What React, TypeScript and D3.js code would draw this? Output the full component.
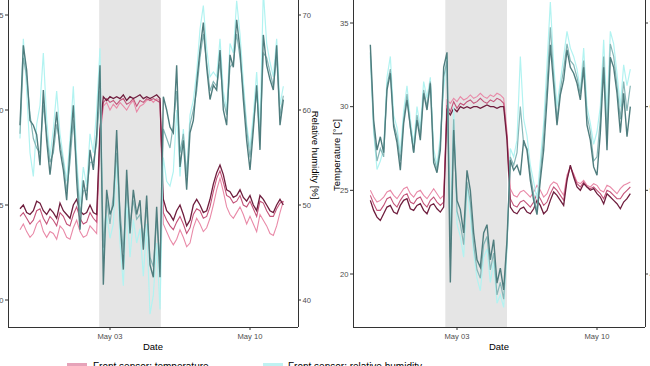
import React from "react";
import * as d3 from "d3";

const HOUR = 3600 * 1000;
const STEP_HOURS = 4;

// left panel, 4-hourly readings from Apr 28 12:00
const leftStart = new Date(2021, 3, 28, 12);
const leftHumLight = [
  57.0, 67.5, 62.0, 55.5, 53.0, 58.5, 60.5, 66.0, 59.0, 55.0,
  58.0, 62.0, 57.5, 55.0, 52.5, 57.0, 62.5, 55.0, 50.0, 54.0,
  52.0, 57.5, 55.5, 60.0, 66.5, 44.0, 49.0, 46.5, 48.0, 55.0,
  46.0, 41.5, 50.5, 44.5, 48.5, 46.0, 47.5, 42.5, 48.0, 38.5,
  40.5, 46.0, 39.0, 55.0, 52.5, 52.0, 53.5, 60.0, 53.0, 58.0,
  53.0, 59.5, 61.0, 64.0, 68.5, 71.0, 66.5, 63.5, 64.0, 63.5,
  67.5, 62.0, 60.0, 67.0, 66.0, 71.5, 68.0, 63.0, 58.5, 56.0,
  59.5, 64.0, 58.0, 72.5, 67.0, 65.0, 63.5, 67.5, 60.5, 62.5,
];
const leftHumMid = [
  57.5, 65.5, 63.5, 59.5, 57.0, 56.0, 55.5, 60.5, 57.5, 54.5,
  55.5, 58.5, 56.5, 54.5, 51.5, 54.5, 59.0, 54.0, 49.0, 51.5,
  51.5, 54.5, 54.5, 56.5, 62.0, 45.5, 50.5, 48.0, 51.0, 55.5,
  49.5, 45.0, 52.0, 48.0, 50.5, 48.5, 49.0, 46.5, 49.5, 44.5,
  43.5, 48.5, 44.0, 58.0, 57.0, 56.0, 58.5, 62.0, 55.5, 57.5,
  53.0, 58.5, 60.0, 62.0, 65.5, 68.0, 65.0, 62.0, 63.0, 62.5,
  65.0, 61.0, 59.5, 64.5, 65.0, 68.0, 65.5, 62.0, 58.0, 55.0,
  58.5, 62.0, 57.0, 66.0, 65.5, 64.0, 62.5, 65.5, 59.5, 61.5,
];
const leftHumDark = [
  58.4, 66.8, 64.2, 58.9, 58.4, 57.4, 54.2, 62.1, 56.8, 53.2,
  56.3, 59.8, 55.8, 53.7, 50.5, 55.8, 60.5, 52.6, 47.4, 52.6,
  50.5, 55.8, 53.7, 57.4, 64.7, 41.6, 51.6, 49.0, 50.0, 57.9,
  48.4, 43.2, 53.7, 47.0, 51.6, 49.0, 50.5, 45.3, 51.0, 43.7,
  42.4, 49.8, 42.4, 61.4, 60.0, 58.2, 57.6, 64.7, 54.0, 56.8,
  51.6, 57.6, 58.9, 62.8, 66.3, 69.2, 64.5, 61.1, 62.6, 62.1,
  66.3, 60.0, 58.4, 65.8, 64.5, 69.5, 66.3, 61.1, 56.8, 53.7,
  57.9, 62.6, 55.8, 67.9, 64.7, 63.2, 62.1, 66.8, 58.4, 61.1,
];
const leftTempLight = [
  23.7, 24.0, 23.6, 23.3, 23.5, 24.0, 24.2, 23.6, 23.3, 23.6,
  23.5, 23.2, 23.9, 23.7, 23.3, 23.2, 23.8, 24.2, 23.6, 23.3,
  23.4, 23.9, 23.7, 23.5, 28.5, 30.2, 30.4, 30.0, 30.3, 30.1,
  30.4, 30.2, 30.0, 30.3, 30.5, 29.9, 30.2, 30.3, 30.5, 30.6,
  30.4, 30.6, 30.5, 24.0, 23.6, 23.2, 22.9, 23.2, 23.7, 23.3,
  22.8, 23.0, 23.8, 24.3, 24.0, 23.6, 23.8, 24.3, 25.0, 25.8,
  26.4, 25.7, 24.9, 24.5, 24.3, 24.6, 24.9, 24.5, 24.0, 24.4,
  24.0, 23.6, 24.5, 24.2, 23.9, 23.5, 23.4, 23.9, 24.6, 25.2,
];
const leftTempMid = [
  24.4, 24.6, 24.3, 24.0, 24.2, 24.7, 24.8, 24.3, 24.0, 24.4,
  24.2, 23.9, 24.6, 24.4, 24.0, 23.9, 24.5, 24.9, 24.3, 24.0,
  24.1, 24.6, 24.3, 24.1, 28.8, 30.4, 30.6, 30.4, 30.5, 30.3,
  30.5, 30.6, 30.3, 30.4, 30.6, 30.2, 30.5, 30.4, 30.6, 30.5,
  30.6, 30.5, 30.4, 24.6, 24.2, 23.9, 23.7, 24.1, 24.4, 24.0,
  23.5, 23.8, 24.5, 24.8, 24.7, 24.3, 24.4, 24.9, 25.7, 26.4,
  26.8, 26.2, 25.5, 25.4, 25.1, 25.2, 25.5, 25.0, 24.9, 25.2,
  24.8, 24.4, 25.2, 25.1, 24.7, 24.4, 24.4, 24.8, 25.1, 25.2,
];
const leftTempDark = [
  24.8, 25.0, 24.6, 24.5, 24.7, 25.2, 25.1, 24.7, 24.5, 24.8,
  24.6, 24.3, 25.1, 24.7, 24.5, 24.3, 25.0, 25.3, 24.7, 24.5,
  24.6, 25.0, 24.6, 24.5, 29.0, 30.7, 30.5, 30.7, 30.6, 30.7,
  30.6, 30.8, 30.5, 30.7, 30.6, 30.7, 30.8, 30.6, 30.7, 30.6,
  30.7, 30.8, 30.6, 25.3, 24.7, 24.5, 24.2, 24.7, 25.0, 24.5,
  23.9, 24.2, 25.0, 25.3, 25.0, 24.6, 24.7, 25.3, 26.1, 26.7,
  27.1, 26.6, 25.8, 25.7, 25.4, 25.5, 25.8, 25.4, 25.2, 25.5,
  25.0, 24.7, 25.5, 25.3, 25.0, 24.7, 24.6, 25.0, 25.3, 25.0,
];
const leftShade = [new Date(2021, 4, 2, 11), new Date(2021, 4, 5, 13)];

// right panel, 4-hourly readings from Apr 28 16:00
const rightStart = new Date(2021, 3, 28, 16);
const rightHumLight = [
  66.0, 57.0, 52.5, 53.5, 55.0, 63.5, 66.0, 59.0, 57.5, 54.5,
  59.5, 62.5, 58.5, 55.5, 60.0, 57.5, 63.0, 61.0, 63.5, 55.0,
  53.0, 56.5, 62.0, 66.0, 45.0, 60.0, 46.0, 44.5, 42.0, 50.5,
  47.0, 42.5, 39.5, 38.0, 42.0, 43.0, 39.0, 41.5, 36.5, 37.5,
  36.0, 43.0, 55.0, 54.0, 56.0, 66.0, 58.5, 56.5, 53.0, 51.0,
  49.0, 53.5, 58.0, 65.0, 72.5, 65.0, 60.0, 63.0, 66.0, 69.0,
  67.0, 66.0, 64.5, 62.0, 67.0, 60.0, 58.0, 55.5, 57.0, 60.0,
  68.0, 59.0, 69.0, 67.5, 64.0, 60.0, 65.0, 62.5, 64.5,
];
const rightHumMid = [
  66.5, 57.5, 53.5, 55.0, 54.0, 62.5, 64.5, 58.0, 56.5, 53.5,
  58.5, 61.5, 57.5, 54.5, 59.0, 56.5, 62.0, 60.0, 63.0, 54.0,
  52.5, 55.5, 63.5, 65.5, 42.0, 58.5, 47.5, 46.0, 43.5, 51.0,
  48.5, 43.5, 40.5, 39.5, 43.5, 44.5, 40.5, 42.5, 37.5, 39.0,
  37.0, 43.5, 54.0, 53.0, 54.5, 60.0, 55.5, 55.0, 52.0, 49.5,
  47.5, 52.0, 56.5, 62.5, 69.5, 63.5, 58.5, 62.0, 64.5, 67.5,
  65.5, 65.0, 63.5, 61.5, 65.5, 59.0, 57.0, 53.5, 54.0, 58.5,
  66.0, 56.5, 67.5, 66.0, 62.5, 58.5, 63.0, 59.5, 62.5,
];
const rightHumDark = [
  67.4, 58.4, 54.8, 56.4, 54.5, 62.0, 64.0, 57.6, 55.7, 52.4,
  58.0, 60.8, 57.6, 54.5, 58.4, 56.0, 61.6, 59.6, 62.8, 53.3,
  52.1, 54.8, 64.7, 66.5, 39.0, 57.2, 48.8, 47.7, 44.9, 52.4,
  50.0, 44.9, 41.7, 40.8, 44.9, 45.9, 41.7, 44.1, 38.9, 40.7,
  38.1, 44.1, 53.6, 52.4, 53.0, 51.8, 56.0, 54.8, 51.2, 48.8,
  47.1, 51.2, 54.8, 60.8, 67.4, 62.6, 57.8, 61.4, 63.2, 66.8,
  64.7, 64.0, 62.8, 60.8, 64.7, 57.8, 56.0, 52.8, 51.8, 56.9,
  64.7, 54.8, 65.9, 64.7, 61.6, 56.9, 61.6, 56.4, 60.0,
];
const rightTempLight = [
  25.0, 24.6, 24.3, 24.4, 24.6, 24.9, 25.0, 24.7, 24.5, 24.8,
  25.1, 25.2, 24.8, 24.6, 24.9, 25.0, 24.7, 24.5, 24.8, 25.1,
  24.8, 24.5, 24.7, 30.4, 30.2, 30.5, 30.3, 30.6, 30.4, 30.5,
  30.7, 30.5, 30.6, 30.8, 30.6, 30.5, 30.7, 30.6, 30.8, 30.7,
  30.5, 28.5, 25.1, 24.7, 24.6, 24.9, 25.0, 24.8, 24.6, 24.9,
  25.3, 25.0, 24.6, 24.8, 25.3, 25.5, 25.4, 25.0, 24.7, 25.9,
  26.4, 26.0, 25.5, 25.4, 25.6, 25.3, 25.2, 25.4, 25.3, 25.0,
  24.9, 25.3, 25.2, 25.0, 24.8, 25.1, 25.3, 25.4, 25.5,
];
const rightTempMid = [
  24.7, 24.2, 23.8, 23.8, 24.1, 24.5, 24.6, 24.2, 24.0, 24.4,
  24.7, 24.8, 24.3, 24.2, 24.5, 24.6, 24.2, 24.0, 24.4, 24.6,
  24.3, 24.1, 24.3, 30.1, 29.7, 30.3, 29.9, 30.2, 30.1, 30.3,
  30.4, 30.2, 30.3, 30.5, 30.3, 30.2, 30.4, 30.3, 30.5, 30.4,
  30.2, 28.2, 24.5, 24.1, 24.0, 24.3, 24.4, 24.2, 24.0, 24.3,
  24.8, 24.5, 24.1, 24.3, 24.8, 25.2, 25.0, 24.7, 24.4, 25.7,
  26.4, 25.9, 25.4, 25.2, 25.5, 25.2, 25.1, 25.2, 25.0, 24.8,
  24.5, 25.0, 24.9, 24.7, 24.5, 24.5, 24.8, 25.0, 25.2,
];
const rightTempDark = [
  24.4, 23.8, 23.4, 23.2, 23.6, 24.0, 24.1, 23.7, 23.6, 24.1,
  24.4, 24.5, 23.9, 23.8, 24.1, 24.2, 23.8, 23.6, 24.1, 24.2,
  23.9, 23.7, 24.0, 29.8, 29.5, 29.9, 29.7, 30.0, 29.9, 30.0,
  29.9, 30.0, 30.0, 29.9, 30.0, 30.1, 30.0, 30.0, 29.9, 30.0,
  30.0, 28.0, 24.0, 23.7, 23.6, 23.9, 24.0, 23.7, 23.6, 23.9,
  24.4, 24.1, 23.6, 23.8, 24.4, 24.9, 24.7, 24.4, 24.1, 25.6,
  26.5, 25.8, 25.2, 25.0, 25.4, 25.2, 25.0, 25.1, 24.8, 24.6,
  24.2, 24.8, 24.6, 24.4, 24.2, 23.9, 24.3, 24.5, 24.8,
];
const rightShade = [new Date(2021, 4, 2, 10), new Date(2021, 4, 5, 12)];

const dateTicks = [new Date(2021, 4, 3), new Date(2021, 4, 10)];
const tempTicks = [20, 25, 30, 35];
const humTicks = [40, 50, 60, 70];
const legendLabels = ["Front sensor: temperature", "Front sensor: relative humidity"];

const tempColors = ["#e98aa8", "#c4547a", "#6f1e3e"];
const humColors = ["#b2f3f1", "#86b6b6", "#4f7d7e"];
const FONT = "Liberation Sans, Arial, sans-serif";

type PanelProps = {
  left: number;
  right: number;
  top: number;
  bottom: number;
  xAt: number[];
  yAt: number[];
  start: Date;
  temps: number[][];
  hums: number[][];
  shade: Date[];
};

const Panel = ({ left, right, top, bottom, xAt, yAt, start, temps, hums, shade }: PanelProps) => {
  const x = d3.scaleTime().domain(dateTicks).range(xAt);
  const y = d3.scaleLinear().domain([20, 35]).range(yAt);
  const yHum = d3.scaleLinear().domain([40, 70]).range(yAt);
  const time = (i: number) => new Date(start.getTime() + i * STEP_HOURS * HOUR);
  const tempLine = d3.line<number>().x((_, i) => x(time(i))).y((d) => y(d));
  const humLine = d3.line<number>().x((_, i) => x(time(i))).y((d) => yHum(d));
  const fmt = d3.timeFormat("%b %d");
  const midY = (top + bottom) / 2;
  const midX = (left + right) / 2;

  return (
    <g fontFamily={FONT}>
      <rect
        x={x(shade[0])}
        y={top}
        width={x(shade[1]) - x(shade[0])}
        height={bottom - top}
        fill="#e5e5e5"
      />
      {temps.map((s, k) => (
        <path key={"t" + k} d={tempLine(s) || ""} fill="none" stroke={tempColors[k]} strokeWidth={k === 2 ? 1.3 : 1.1} />
      ))}
      {hums.map((s, k) => (
        <path key={"h" + k} d={humLine(s) || ""} fill="none" stroke={humColors[k]} strokeWidth={k === 2 ? 1.4 : 1.2} />
      ))}

      <g stroke="#333" strokeWidth={1} shapeRendering="crispEdges">
        <line x1={left} x2={left} y1={top} y2={bottom} />
        <line x1={right} x2={right} y1={top} y2={bottom} />
        <line x1={left} x2={right} y1={bottom} y2={bottom} />
      </g>

      {tempTicks.map((t) => (
        <g key={"yt" + t}>
          <line x1={left - 3} x2={left} y1={y(t)} y2={y(t)} stroke="#333" />
          <text x={left - 4.5} y={y(t) + 2.7} textAnchor="end" fontSize={7.6} fill="#4d4d4d">
            {t}
          </text>
        </g>
      ))}
      {humTicks.map((h) => (
        <g key={"yh" + h}>
          <line x1={right} x2={right + 3} y1={yHum(h)} y2={yHum(h)} stroke="#333" />
          <text x={right + 4.5} y={yHum(h) + 2.7} fontSize={7.6} fill="#4d4d4d">
            {h}
          </text>
        </g>
      ))}
      {dateTicks.map((d) => (
        <g key={"xt" + d.getTime()}>
          <line x1={x(d)} x2={x(d)} y1={bottom} y2={bottom + 3} stroke="#333" />
          <text x={x(d)} y={bottom + 12} textAnchor="middle" fontSize={7.6} fill="#4d4d4d">
            {fmt(d)}
          </text>
        </g>
      ))}

      <text x={midX} y={bottom + 23} textAnchor="middle" fontSize={9.5} fill="#000">
        Date
      </text>
      <text transform={`translate(${left - 13},${midY}) rotate(-90)`} textAnchor="middle" fontSize={9.5} fill="#000">
        Temperature [°C]
      </text>
      <text transform={`translate(${right + 14},${midY}) rotate(90)`} textAnchor="middle" fontSize={9.5} fill="#000">
        Relative humidity [%]
      </text>
    </g>
  );
};

export default function App() {
  return (
    <div style={{ position: "absolute", left: 0, top: 0 }}>
      <svg width={650} height={366} style={{ display: "block", background: "#fff" }}>
        <Panel
          left={8}
          right={298}
          top={-17}
          bottom={327}
          xAt={[110, 250]}
          yAt={[300, 15]}
          start={leftStart}
          temps={[leftTempLight, leftTempMid, leftTempDark]}
          hums={[leftHumLight, leftHumMid, leftHumDark]}
          shade={leftShade}
        />
        <Panel
          left={353}
          right={645}
          top={-17}
          bottom={327}
          xAt={[457, 597]}
          yAt={[274, 23]}
          start={rightStart}
          temps={[rightTempLight, rightTempMid, rightTempDark]}
          hums={[rightHumLight, rightHumMid, rightHumDark]}
          shade={rightShade}
        />
        <g fontFamily={FONT} fontSize={10}>
          <rect x={67} y={363} width={20} height={6} fill="#e6a3b9" />
          <text x={93} y={370}>{legendLabels[0]}</text>
          <rect x={263} y={363} width={20} height={6} fill="#bff2f2" />
          <text x={288} y={370}>{legendLabels[1]}</text>
        </g>
      </svg>
    </div>
  );
}
